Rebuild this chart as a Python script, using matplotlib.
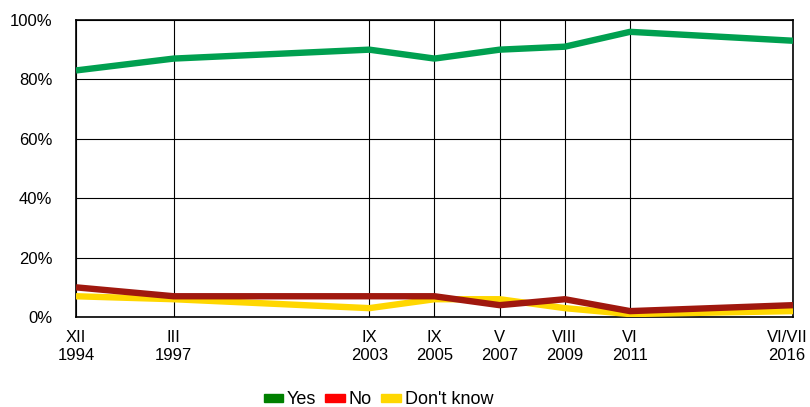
import matplotlib
matplotlib.use("Agg")
import matplotlib.pyplot as plt
import matplotlib.transforms as mtrans
from matplotlib.patches import Patch

plt.rcParams['font.family'] = ['Liberation Sans', 'DejaVu Sans']

years = [1994, 1997, 2003, 2005, 2007, 2009, 2011, 2016]
tick_labels = ["XII\n1994", "III\n1997", "IX\n2003", "IX\n2005", "V\n2007",
               "VIII\n2009", "VI\n2011", "VI/VII\n2016"]
yes = [83, 87, 90, 87, 90, 91, 96, 93]
no = [10, 7, 7, 7, 4, 6, 2, 4]
dont_know = [7, 6, 3, 6, 6, 3, 1, 2]

fig, ax = plt.subplots(figsize=(8.1, 4.07), dpi=100)
plt.subplots_adjust(left=0.0938, right=0.979, top=0.951, bottom=0.221)

ax.plot(years, dont_know, color='#FFD700', lw=4.6, solid_capstyle='butt', zorder=3)
ax.plot(years, no, color='#A0180E', lw=4.6, solid_capstyle='butt', zorder=4)
ax.plot(years, yes, color='#00A050', lw=4.6, solid_capstyle='butt', zorder=5)

ax.set_xlim(1994, 2016)
ax.set_ylim(0, 100)
ax.set_xticks(years)
ax.set_xticklabels(tick_labels, fontsize=12, linespacing=1.25)
ax.set_yticks(range(0, 101, 20))
ax.set_yticklabels([f"{v}%" for v in range(0, 101, 20)], fontsize=12)
ax.tick_params(axis='x', length=0, pad=9)
ax.tick_params(axis='y', length=0, pad=17)
ax.grid(True, color='black', lw=0.8, zorder=1)
for s in ax.spines.values():
    s.set_color('black')
    s.set_linewidth(1.2)

# last label nudged left so it stays inside the figure
last = ax.get_xticklabels()[-1]
last.set_transform(last.get_transform() + mtrans.ScaledTranslation(-0.06, 0, fig.dpi_scale_trans))

handles = [Patch(color='#008000', label='Yes'),
           Patch(color='#FF0000', label='No'),
           Patch(color='#FFD700', label="Don't know")]
fig.legend(handles=handles, loc='center', bbox_to_anchor=(0.467, 0.018), ncol=3,
           frameon=False, fontsize=13, handlelength=1.1, handleheight=0.3,
           handletextpad=0.2, columnspacing=0.5)

fig.savefig("out.png", dpi=100)
